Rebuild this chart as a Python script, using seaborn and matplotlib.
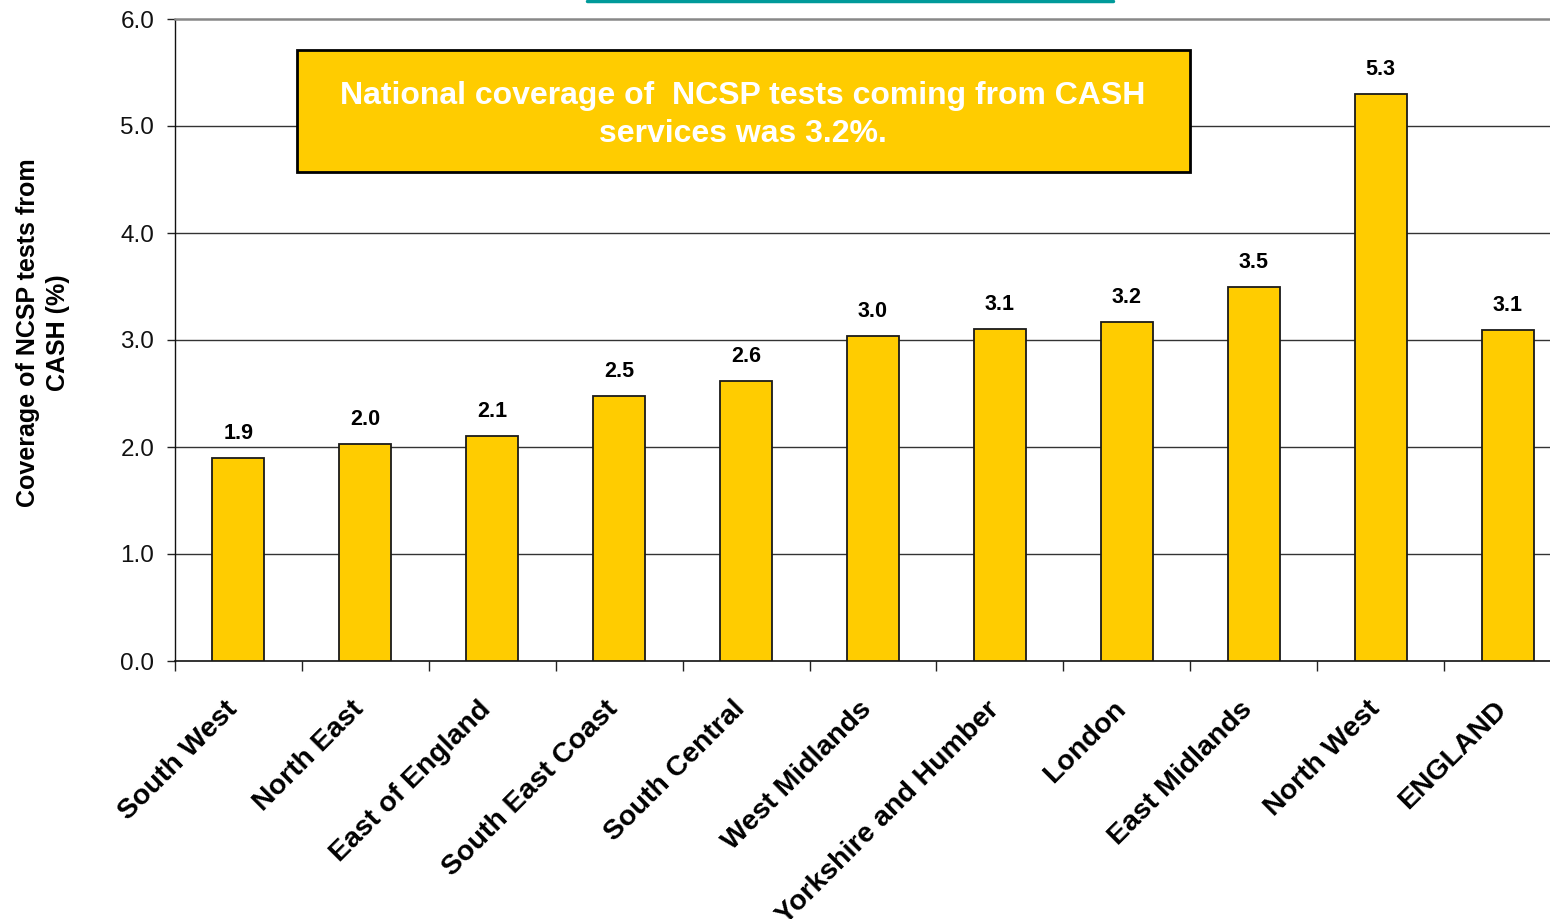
import matplotlib
matplotlib.use("Agg")
import matplotlib.pyplot as plt
import matplotlib.transforms as mtransforms
from matplotlib.patches import Rectangle
from matplotlib.lines import Line2D
import seaborn as sns
import pandas as pd

regions = ["South West", "North East", "East of England", "South East Coast",
           "South Central", "West Midlands", "Yorkshire and Humber", "London",
           "East Midlands", "North West", "ENGLAND"]
coverage = [1.9, 2.03, 2.1, 2.48, 2.62, 3.04, 3.1, 3.17, 3.5, 5.3, 3.09]
y_ticks = [0.0, 1.0, 2.0, 3.0, 4.0, 5.0, 6.0]
y_label = "Coverage of NCSP tests from\nCASH (%)"
note = "National coverage of  NCSP tests coming from CASH\nservices was 3.2%."

sns.set_theme(style="white")
plt.rcParams['font.family'] = ['Liberation Sans', 'DejaVu Sans']
plt.rcParams['text.color'] = 'black'
plt.rcParams['xtick.color'] = 'black'
plt.rcParams['ytick.color'] = 'black'
plt.rcParams['xtick.labelcolor'] = 'black'
plt.rcParams['ytick.labelcolor'] = 'black'

df = pd.DataFrame({"region": regions, "coverage": coverage})

W, H = 1550, 919
fig = plt.figure(figsize=(W / 100, H / 100), dpi=100)
ax = fig.add_axes([175 / W, 1 - 661 / H, (1571 - 175) / W, (661 - 19) / H])

sns.barplot(data=df, x="region", y="coverage", color="#FFCC00", saturation=1,
            edgecolor="#1a1a1a", linewidth=1.3, width=0.41, ax=ax, zorder=3)

ax.set_xlim(-0.5, len(regions) - 0.5)
ax.set_ylim(0, 6.0)
ax.set_yticks(y_ticks)
ax.set_yticklabels([f"{v:.1f}" for v in y_ticks], fontsize=17.5, color="#111111")
for v in y_ticks[1:-1]:
    ax.axhline(v, color="#333333", lw=1.0, zorder=1)

ax.set_xlabel("")
ax.set_ylabel("")

# x ticks: category boundaries as minor ticks
ax.set_xticks(range(len(regions)))
ax.set_xticks([i - 0.5 for i in range(len(regions) + 1)], minor=True)
ax.tick_params(axis="x", which="major", length=0, pad=32)
ax.tick_params(axis="x", which="minor", length=7, width=1, color="#222222",
               direction="out", bottom=True)
ax.tick_params(axis="y", which="major", length=6, width=1, color="#222222",
               direction="out", left=True, pad=9)
ax.set_xticklabels(regions, rotation=45, ha="right", va="center",
                   rotation_mode="anchor", fontsize=20.5, fontweight="bold",
                   color="black")
offset = mtransforms.ScaledTranslation(-5 / 100, 0, fig.dpi_scale_trans)
for lbl in ax.get_xticklabels():
    lbl.set_transform(lbl.get_transform() + offset)

ax.spines["right"].set_visible(False)
ax.spines["top"].set_color("#888888")
ax.spines["top"].set_linewidth(1.8)
ax.spines["left"].set_color("#111111")
ax.spines["left"].set_linewidth(1.0)
ax.spines["bottom"].set_color("#111111")
ax.spines["bottom"].set_linewidth(1.2)

# value labels
for i, v in enumerate(coverage):
    ax.annotate(f"{v:.1f}", xy=(i, v), xytext=(0, 10), textcoords="offset points",
                ha="center", va="bottom", fontsize=15.5, fontweight="bold",
                color="black", zorder=4)

# y-axis title
fig.text(43 / W, 1 - 333 / H, y_label, rotation=90, ha="center", va="center",
         multialignment="center", fontsize=18, fontweight="bold", linespacing=1.3,
         color="black")

# annotation box
fig.patches.append(Rectangle((297 / W, 1 - 172 / H), (1190 - 297) / W, (172 - 50) / H,
                             transform=fig.transFigure, facecolor="#FFCC00",
                             edgecolor="black", linewidth=2, zorder=5))
fig.text(743 / W, 1 - 115 / H, note, ha="center", va="center",
         multialignment="center", fontsize=23, fontweight="bold", color="white",
         linespacing=1.38, zorder=6)

# clipped hyperlink underline at the very top
fig.add_artist(Line2D([587 / W, 1113 / W], [1 - 1 / H, 1 - 1 / H],
                      transform=fig.transFigure, color="#009A9A", lw=2.5))

fig.savefig("out.png", dpi=100)
